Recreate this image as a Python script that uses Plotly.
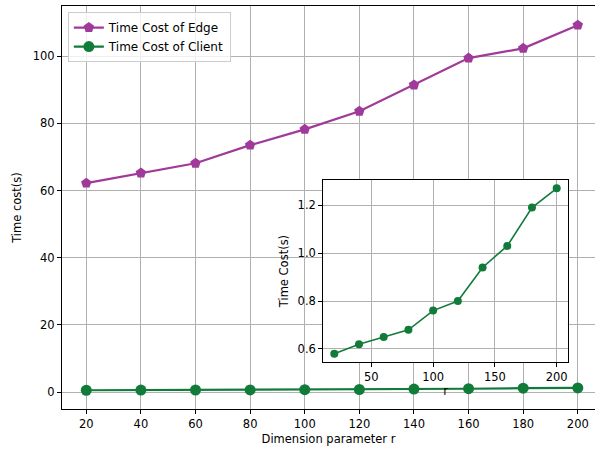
import plotly.graph_objects as go

# Dimension parameter r and measured time costs (seconds)
r_values = [20, 40, 60, 80, 100, 120, 140, 160, 180, 200]
edge_cost = [62.2, 65.2, 68.1, 73.5, 78.2, 83.6, 91.4, 99.4, 102.3, 109.2]
client_cost = [0.58, 0.62, 0.65, 0.68, 0.76, 0.80, 0.94, 1.03, 1.19, 1.27]

main_xticks = [20, 40, 60, 80, 100, 120, 140, 160, 180, 200]
main_yticks = [0, 20, 40, 60, 80, 100]
inset_xticks = [50, 100, 150, 200]
inset_yticks = [0.6, 0.8, 1.0, 1.2]

PURPLE = "#A03A9A"
GREEN = "#117C3A"
FONT = "DejaVu Sans"
GRID = "#b0b0b0"
FS = 11.5

fig = go.Figure()

fig.add_trace(go.Scatter(
    x=r_values, y=edge_cost, name="Time Cost of Edge",
    mode="lines+markers",
    line=dict(color=PURPLE, width=2.2),
    marker=dict(symbol="pentagon", size=11, color=PURPLE),
    xaxis="x", yaxis="y",
))
fig.add_trace(go.Scatter(
    x=r_values, y=client_cost, name="Time Cost of Client",
    mode="lines+markers",
    line=dict(color=GREEN, width=2.2),
    marker=dict(symbol="circle", size=11, color=GREEN),
    xaxis="x", yaxis="y",
))
# inset: client cost on its own scale
fig.add_trace(go.Scatter(
    x=r_values, y=client_cost, showlegend=False,
    mode="lines+markers",
    line=dict(color=GREEN, width=1.6),
    marker=dict(symbol="circle", size=8, color=GREEN),
    xaxis="x2", yaxis="y2",
))

axis_common = dict(
    showgrid=True, gridcolor=GRID, gridwidth=0.8,
    showline=True, linecolor="black", linewidth=1,
    ticks="outside", ticklen=4, tickcolor="black",
    zeroline=False,
    tickfont=dict(family=FONT, size=FS, color="black"),
)

fig.update_layout(
    width=595, height=449,
    margin=dict(l=62, r=0, t=6, b=40),
    paper_bgcolor="white", plot_bgcolor="white",
    font=dict(family=FONT, size=FS, color="black"),
    xaxis=dict(
        axis_common, range=[11.1, 206.3], tickvals=main_xticks,
        mirror=True, domain=[0, 1],
        title=dict(text="Dimension parameter r", font=dict(family=FONT, size=FS), standoff=5),
    ),
    yaxis=dict(
        axis_common, range=[-5.0, 114.9], tickvals=main_yticks,
        domain=[0, 1],
        title=dict(text="Time cost(s)", font=dict(family=FONT, size=FS), standoff=8),
    ),
    xaxis2=dict(
        axis_common, range=[11, 209], tickvals=inset_xticks,
        mirror=True, domain=[0.490, 0.949], anchor="y2",
        title=dict(text="r", font=dict(family=FONT, size=FS), standoff=2),
    ),
    yaxis2=dict(
        axis_common, range=[0.5455, 1.3045], tickvals=inset_yticks,
        tickformat=".1f", mirror=True, domain=[0.1166, 0.568], anchor="x2",
        title=dict(text="Time Cost(s)", font=dict(family=FONT, size=FS), standoff=6),
    ),
    legend=dict(
        x=0.011, y=0.985, xanchor="left", yanchor="top",
        bgcolor="rgba(255,255,255,0.8)", bordercolor="#cccccc", borderwidth=1,
        font=dict(family=FONT, size=12),
        itemwidth=30, tracegroupgap=0,
    ),
    shapes=[dict(
        type="rect", xref="x2 domain", yref="y2 domain",
        x0=0, x1=1, y0=0, y1=1, layer="below",
        fillcolor="white", line=dict(width=0),
    )],
)

fig.write_html("out.html")
